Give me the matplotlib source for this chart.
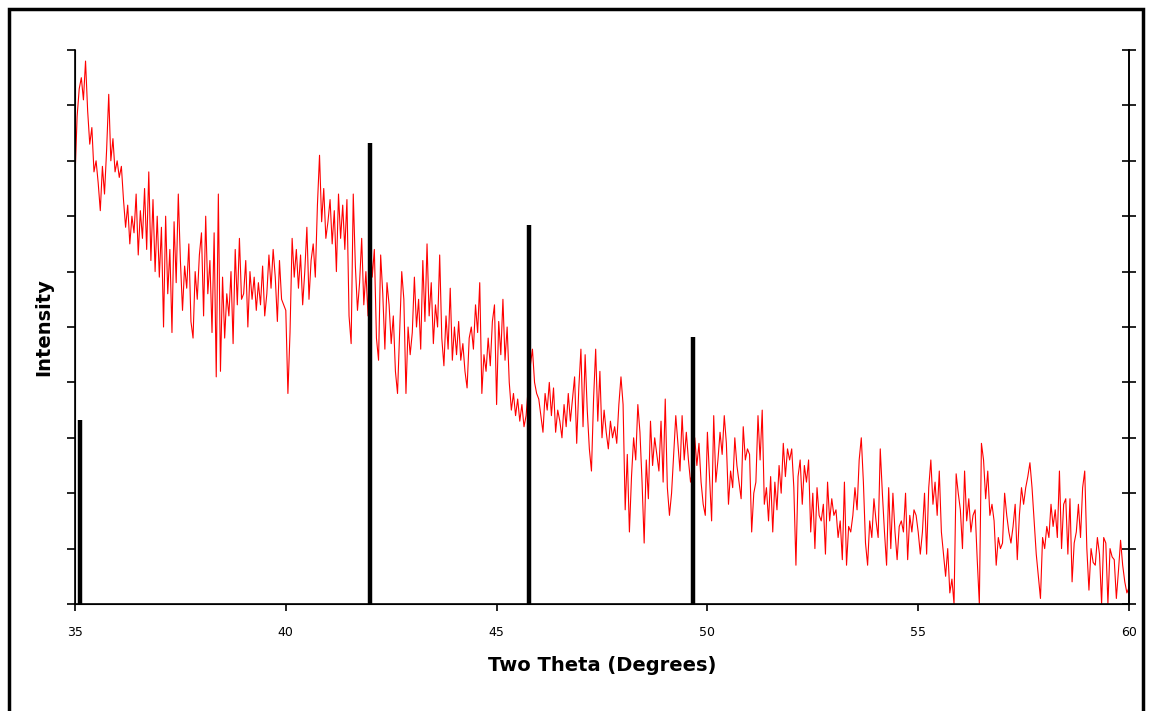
import numpy as np
import matplotlib
matplotlib.use("Agg")
import matplotlib.pyplot as plt
from matplotlib.patches import Rectangle

plt.rcParams['font.family'] = ['DejaVu Sans']

# Intensity, one row per degree (0.05 deg steps), 35.00 .. 60.00
deg35 = [7.7, 8.8, 9.3, 9.5, 9.1, 9.8, 8.9, 8.3, 8.6, 7.8, 8.0, 7.6, 7.1, 7.9, 7.4, 8.2, 9.2, 8.0, 8.4, 7.8]
deg36 = [8.0, 7.7, 7.9, 7.3, 6.8, 7.2, 6.5, 7.0, 6.7, 7.4, 6.3, 7.1, 6.6, 7.5, 6.4, 7.8, 6.2, 7.3, 6.0, 7.0]
deg37 = [5.9, 6.8, 5.0, 7.0, 5.6, 6.4, 4.9, 6.9, 5.8, 7.4, 6.2, 5.3, 6.1, 5.7, 6.5, 5.1, 4.8, 6.0, 5.5, 6.3]
deg38 = [6.7, 5.2, 7.0, 5.6, 6.2, 4.9, 6.7, 4.1, 7.4, 4.2, 5.9, 4.8, 5.6, 5.2, 6.0, 4.7, 6.4, 5.4, 6.6, 5.5]
deg39 = [5.6, 6.2, 5.0, 6.0, 5.5, 5.9, 5.3, 5.8, 5.4, 6.1, 5.2, 5.6, 6.3, 5.7, 6.4, 5.9, 5.1, 6.2, 5.5, 5.4]
deg40 = [5.3, 3.8, 4.9, 6.6, 5.9, 6.4, 5.7, 6.3, 5.4, 6.0, 6.8, 5.5, 6.2, 6.5, 5.9, 7.2, 8.1, 6.9, 7.5, 6.6]
deg41 = [6.9, 7.3, 6.5, 7.1, 6.0, 7.4, 6.6, 7.2, 6.4, 7.3, 5.2, 4.7, 7.4, 6.1, 5.3, 5.8, 6.6, 5.4, 6.0, 5.2]
deg42 = [6.8, 5.9, 6.4, 4.8, 4.4, 6.3, 5.6, 4.6, 5.8, 5.4, 4.7, 5.2, 4.2, 3.8, 4.9, 6.0, 5.5, 3.8, 5.0, 4.5]
deg43 = [4.9, 5.9, 5.0, 5.5, 4.6, 6.2, 5.1, 6.5, 5.2, 5.8, 4.7, 5.4, 5.0, 6.3, 4.8, 4.3, 5.2, 4.6, 5.7, 4.4]
deg44 = [5.0, 4.5, 5.1, 4.4, 4.7, 4.2, 3.9, 4.8, 5.0, 4.6, 5.4, 4.9, 5.8, 3.8, 4.5, 4.2, 4.8, 4.3, 5.1, 5.4]
deg45 = [3.6, 5.1, 4.5, 5.5, 4.4, 5.0, 4.0, 3.5, 3.8, 3.4, 3.7, 3.3, 3.6, 3.2, 3.4, 3.9, 4.3, 4.6, 4.0, 3.8]
deg46 = [3.7, 3.4, 3.1, 3.8, 3.5, 4.0, 3.4, 3.9, 3.1, 3.5, 3.3, 3.0, 3.6, 3.2, 3.8, 3.3, 3.7, 4.1, 2.9, 3.9]
deg47 = [4.6, 3.2, 4.5, 3.5, 2.8, 2.4, 3.7, 4.6, 3.3, 4.2, 3.0, 3.5, 3.1, 2.8, 3.3, 3.0, 3.2, 2.9, 3.6, 4.1]
deg48 = [3.6, 1.7, 2.7, 1.3, 2.3, 3.0, 2.6, 3.6, 3.1, 2.2, 1.1, 2.6, 1.9, 3.3, 2.5, 3.0, 2.7, 2.4, 3.3, 2.2]
deg49 = [3.7, 2.1, 1.6, 2.0, 2.7, 3.4, 2.9, 2.4, 3.4, 2.6, 3.1, 2.6, 2.2, 2.4, 3.0, 2.5, 2.9, 2.2, 1.8, 1.6]
deg50 = [3.1, 2.3, 1.5, 3.4, 2.2, 2.6, 3.1, 2.7, 3.4, 2.9, 1.8, 2.4, 2.1, 3.0, 2.5, 2.2, 1.9, 3.2, 2.6, 2.8]
deg51 = [2.7, 1.3, 2.0, 2.2, 3.4, 2.6, 3.5, 1.8, 2.1, 1.5, 2.3, 1.3, 2.2, 1.7, 2.5, 2.0, 2.9, 2.3, 2.8, 2.6]
deg52 = [2.8, 2.1, 0.7, 2.3, 2.6, 1.8, 2.5, 2.2, 2.6, 1.3, 2.0, 1.0, 2.1, 1.6, 1.5, 1.8, 0.9, 2.2, 1.5, 1.9]
deg53 = [1.6, 1.7, 1.2, 1.5, 0.8, 2.2, 0.7, 1.4, 1.3, 1.6, 2.1, 1.7, 2.6, 3.0, 2.2, 1.1, 0.7, 1.5, 1.2, 1.9]
deg54 = [1.5, 1.2, 2.8, 2.0, 1.3, 0.7, 2.1, 1.0, 2.0, 1.3, 0.8, 1.4, 1.5, 1.3, 2.0, 0.8, 1.6, 1.3, 1.7, 1.6]
deg55 = [1.3, 0.9, 1.3, 2.0, 0.9, 2.1, 2.6, 1.8, 2.2, 1.6, 2.4, 1.3, 0.9, 0.5, 1.0, 0.2, 0.45, 0.0, 2.35, 2.0]
deg56 = [1.7, 1.0, 2.4, 1.5, 1.9, 1.3, 1.6, 1.7, 0.8, 0.0, 2.9, 2.6, 1.9, 2.4, 1.6, 1.8, 1.5, 0.7, 1.2, 1.0]
deg57 = [1.1, 2.0, 1.6, 1.3, 1.1, 1.4, 1.8, 0.8, 1.6, 2.1, 1.8, 2.1, 2.3, 2.55, 2.1, 1.5, 0.9, 0.5, 0.1, 1.2]
deg58 = [1.0, 1.4, 1.2, 1.8, 1.4, 1.7, 1.2, 2.4, 1.0, 1.8, 1.9, 0.9, 1.9, 0.4, 1.1, 1.3, 1.8, 1.2, 2.1, 2.4]
deg59 = [1.0, 0.25, 1.0, 0.75, 0.7, 1.2, 0.9, 0.0, 1.2, 1.1, 0.0, 1.0, 0.85, 0.8, 0.1, 0.6, 1.15, 0.7, 0.4, 0.2]
deg60 = [0.3]

# Reference peak positions (degrees) and relative heights
peak_pos = [35.12, 42.0, 45.77, 49.66]
peak_height = [3.32, 8.32, 6.84, 4.82]

x_ticks = [35, 40, 45, 50, 55, 60]
x_tick_labels = ["35", "40", "45", "50", "55", "60"]

intensity = np.array(deg35 + deg36 + deg37 + deg38 + deg39 + deg40 + deg41 + deg42 +
                     deg43 + deg44 + deg45 + deg46 + deg47 + deg48 + deg49 + deg50 +
                     deg51 + deg52 + deg53 + deg54 + deg55 + deg56 + deg57 + deg58 +
                     deg59 + deg60)
two_theta = np.linspace(35, 60, len(intensity))

fig = plt.figure(figsize=(11.49, 7.11), dpi=100)
ax = fig.add_axes([75/1149, 1-604/711, (1129-75)/1149, (604-50)/711])

ax.plot(two_theta, intensity, color="#ff0000", lw=0.8)
ax.vlines(peak_pos, 0, peak_height, color="black", lw=3.2)

ax.set_xlim(35, 60)
ax.set_ylim(0, 10)
ax.set_xticks(x_ticks)
ax.set_xticklabels(x_tick_labels, fontsize=9)
ax.set_yticks(np.arange(0, 11, 1))
ax.set_yticklabels([])
ax.spines["top"].set_visible(False)
for s in ["left", "right", "bottom"]:
    ax.spines[s].set_linewidth(1.2)
ax.tick_params(axis="x", direction="out", length=5, width=1.2, pad=11)
ax.tick_params(axis="y", direction="out", length=6, width=1.2, left=True, right=False)

axr = ax.twinx()
axr.set_ylim(0, 10)
axr.set_yticks(np.arange(0, 11, 1))
axr.set_yticklabels([])
axr.spines["top"].set_visible(False)
axr.spines["right"].set_linewidth(1.2)
axr.tick_params(axis="y", direction="inout", length=10, width=1.2)

ax.set_xlabel("Two Theta (Degrees)", fontsize=14, fontweight="bold", labelpad=12)
ax.set_ylabel("Intensity", fontsize=14, fontweight="bold", labelpad=6)

fig.patches.append(Rectangle((9/1149, -0.05), (1143-9)/1149, 1.05 - 9/711,
                             transform=fig.transFigure, fill=False,
                             edgecolor="black", lw=2.5))

fig.savefig("out.png", dpi=100)
